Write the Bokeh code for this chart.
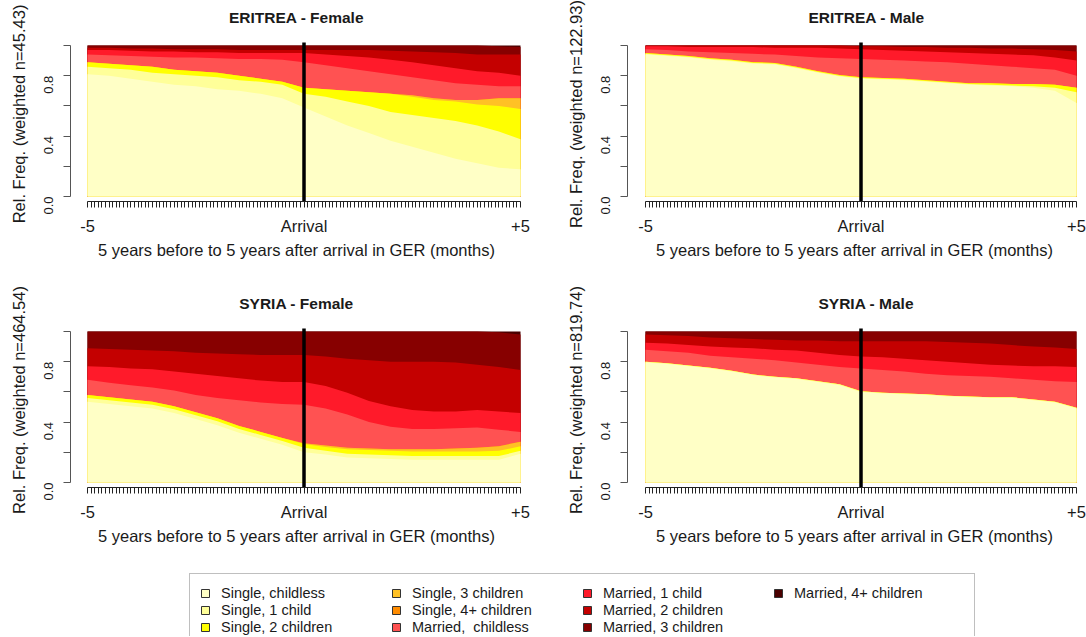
import math
import numpy as np
from bokeh.plotting import figure
from bokeh.layouts import column, row
from bokeh.models import FixedTicker, Legend, LegendItem, Range1d
from bokeh.embed import file_html
from bokeh.resources import INLINE

FONT = "Liberation Sans"

# ---------------- data ----------------
months = [-60, -54, -48, -42, -36, -30, -24, -18, -12, -6, 0,
          6, 12, 18, 24, 30, 36, 42, 48, 54, 60]
arrival_month = 0
month_ticks = list(range(-60, 61))
x_tick_labels = {-60: "-5", 0: "Arrival", 60: "+5"}
y_ticks = [0, 0.2, 0.4, 0.6, 0.8, 1.0]
y_tick_labels = {0: "0.0", 0.2: "", 0.4: "0.4", 0.6: "", 0.8: "0.8", 1.0: ""}

states = ["Single, childless", "Single, 1 child", "Single, 2 children",
          "Single, 3 children", "Single, 4+ children", "Married,  childless",
          "Married, 1 child", "Married, 2 children", "Married, 3 children",
          "Married, 4+ children"]
colors = ["#FFFFC6", "#FFFF99", "#FFFF00", "#FFC125", "#FF8C00",
          "#FF5252", "#FF1A2A", "#C40000", "#870000", "#4A0000"]

# ERITREA - Female (weighted n=45.43)
eri_f = {
    "Single, childless":   [0.81, 0.80, 0.78, 0.76, 0.74, 0.73, 0.71, 0.70, 0.68, 0.65, 0.59, 0.53, 0.47, 0.42, 0.37, 0.33, 0.29, 0.25, 0.22, 0.19, 0.18],
    "Single, 1 child":     [0.05, 0.05, 0.06, 0.06, 0.07, 0.07, 0.08, 0.07, 0.08, 0.09, 0.09, 0.13, 0.16, 0.18, 0.19, 0.21, 0.23, 0.25, 0.25, 0.24, 0.20],
    "Single, 2 children":  [0.03, 0.03, 0.03, 0.04, 0.03, 0.03, 0.03, 0.03, 0.02, 0.02, 0.04, 0.05, 0.07, 0.09, 0.12, 0.12, 0.12, 0.13, 0.14, 0.17, 0.20],
    "Single, 3 children":  [0, 0, 0, 0, 0, 0, 0, 0, 0, 0, 0, 0, 0, 0, 0, 0.01, 0.01, 0.01, 0.03, 0.05, 0.07],
    "Single, 4+ children": [0] * 21,
    "Married,  childless": [0.05, 0.055, 0.06, 0.065, 0.08, 0.09, 0.095, 0.11, 0.13, 0.145, 0.17, 0.16, 0.15, 0.14, 0.13, 0.12, 0.12, 0.11, 0.10, 0.08, 0.08],
    "Married, 1 child":    [0.03, 0.035, 0.035, 0.035, 0.04, 0.035, 0.04, 0.04, 0.04, 0.045, 0.06, 0.07, 0.08, 0.09, 0.095, 0.10, 0.10, 0.10, 0.09, 0.09, 0.07],
    "Married, 2 children": [0.015, 0.015, 0.015, 0.02, 0.015, 0.02, 0.02, 0.02, 0.02, 0.02, 0.02, 0.03, 0.04, 0.05, 0.06, 0.07, 0.085, 0.10, 0.11, 0.12, 0.14],
    "Married, 3 children": [0.015, 0.015, 0.02, 0.02, 0.025, 0.025, 0.025, 0.03, 0.03, 0.03, 0.03, 0.03, 0.03, 0.03, 0.035, 0.04, 0.045, 0.05, 0.06, 0.055, 0.05],
    "Married, 4+ children": [0] * 19 + [0.005, 0.01],
}

# ERITREA - Male (weighted n=122.93)
eri_m = {
    "Single, childless":   [0.94, 0.93, 0.92, 0.905, 0.895, 0.88, 0.875, 0.85, 0.82, 0.795, 0.78, 0.775, 0.77, 0.76, 0.75, 0.74, 0.735, 0.73, 0.72, 0.70, 0.62],
    "Single, 1 child":     [0.005] * 18 + [0.01, 0.02, 0.07],
    "Single, 2 children":  [0.005] * 16 + [0.01, 0.01, 0.015, 0.02, 0.03],
    "Single, 3 children":  [0] * 21,
    "Single, 4+ children": [0] * 21,
    "Married,  childless": [0.025, 0.03, 0.03, 0.04, 0.045, 0.055, 0.055, 0.07, 0.09, 0.11, 0.12, 0.12, 0.12, 0.125, 0.13, 0.13, 0.12, 0.115, 0.105, 0.10, 0.08],
    "Married, 1 child":    [0.02, 0.025, 0.03, 0.035, 0.04, 0.045, 0.045, 0.055, 0.065, 0.065, 0.065, 0.065, 0.065, 0.065, 0.065, 0.07, 0.075, 0.08, 0.085, 0.08, 0.10],
    "Married, 2 children": [0.005, 0.005, 0.01, 0.01, 0.01, 0.01, 0.015, 0.015, 0.015, 0.02, 0.02, 0.025, 0.025, 0.03, 0.03, 0.035, 0.035, 0.04, 0.04, 0.05, 0.06],
    "Married, 3 children": [0] * 10 + [0.005, 0.005, 0.01, 0.01, 0.015, 0.015, 0.02, 0.02, 0.025, 0.03, 0.04],
    "Married, 4+ children": [0] * 21,
}

# SYRIA - Female (weighted n=464.54)
syr_f = {
    "Single, childless":   [0.535, 0.52, 0.505, 0.49, 0.46, 0.42, 0.38, 0.33, 0.29, 0.25, 0.20, 0.185, 0.165, 0.16, 0.155, 0.15, 0.15, 0.15, 0.15, 0.15, 0.19],
    "Single, 1 child":     [0.025] * 10 + [0.03] + [0.025] * 9 + [0.02],
    "Single, 2 children":  [0.02] * 10 + [0.025, 0.025] + [0.03] * 7 + [0.035, 0.03],
    "Single, 3 children":  [0] * 10 + [0.005, 0.01, 0.01, 0.01, 0.01, 0.015, 0.015, 0.02, 0.025, 0.03, 0.03],
    "Single, 4+ children": [0] * 21,
    "Married,  childless": [0.10, 0.095, 0.095, 0.095, 0.105, 0.115, 0.135, 0.17, 0.195, 0.225, 0.255, 0.245, 0.22, 0.175, 0.15, 0.135, 0.135, 0.135, 0.135, 0.11, 0.065],
    "Married, 1 child":    [0.09, 0.105, 0.11, 0.12, 0.125, 0.14, 0.145, 0.145, 0.145, 0.145, 0.15, 0.15, 0.145, 0.14, 0.135, 0.125, 0.115, 0.11, 0.115, 0.12, 0.125],
    "Married, 2 children": [0.12, 0.12, 0.125, 0.125, 0.135, 0.14, 0.15, 0.16, 0.17, 0.18, 0.18, 0.195, 0.225, 0.27, 0.295, 0.32, 0.33, 0.325, 0.30, 0.295, 0.285],
    "Married, 3 children": [0.11, 0.115, 0.12, 0.125, 0.13, 0.14, 0.145, 0.15, 0.155, 0.155, 0.155, 0.165, 0.18, 0.19, 0.20, 0.20, 0.20, 0.205, 0.22, 0.23, 0.235],
    "Married, 4+ children": [0] * 19 + [0.005, 0.02],
}

# SYRIA - Male (weighted n=819.74)
syr_m = {
    "Single, childless":   [0.795, 0.785, 0.77, 0.755, 0.735, 0.71, 0.695, 0.685, 0.665, 0.645, 0.60, 0.59, 0.585, 0.58, 0.57, 0.565, 0.56, 0.56, 0.545, 0.53, 0.49],
    "Single, 1 child":     [0.005] * 21,
    "Single, 2 children":  [0] * 21,
    "Single, 3 children":  [0] * 21,
    "Single, 4+ children": [0] * 21,
    "Married,  childless": [0.08, 0.08, 0.085, 0.08, 0.09, 0.105, 0.11, 0.105, 0.11, 0.115, 0.15, 0.15, 0.145, 0.135, 0.135, 0.135, 0.135, 0.125, 0.13, 0.135, 0.17],
    "Married, 1 child":    [0.045, 0.05, 0.05, 0.06, 0.065, 0.07, 0.07, 0.08, 0.08, 0.08, 0.08, 0.085, 0.085, 0.09, 0.09, 0.085, 0.08, 0.085, 0.09, 0.10, 0.10],
    "Married, 2 children": [0.055, 0.055, 0.06, 0.06, 0.06, 0.06, 0.065, 0.065, 0.08, 0.09, 0.10, 0.105, 0.115, 0.125, 0.13, 0.135, 0.14, 0.135, 0.13, 0.125, 0.12],
    "Married, 3 children": [0.02, 0.025, 0.03, 0.04, 0.045, 0.05, 0.055, 0.06, 0.06, 0.065, 0.065, 0.065, 0.065, 0.065, 0.07, 0.075, 0.08, 0.09, 0.10, 0.105, 0.115],
    "Married, 4+ children": [0] * 21,
}

TEXT = "#1a1a1a"
Y_LO, Y_HI = -0.033, 1.126


def panel(title, ylabel, shares, fig_w, fig_h, frame_left, frame_right,
          x_start, x_end, border_bottom, title_offset=None):
    p = figure(width=fig_w, height=fig_h, output_backend="svg",
               toolbar_location=None,
               x_range=Range1d(x_start, x_end), y_range=Range1d(Y_LO, Y_HI),
               min_border_left=frame_left, min_border_right=fig_w - frame_right,
               min_border_top=26, min_border_bottom=border_bottom,
               outline_line_color=None)
    p.xgrid.visible = False
    p.ygrid.visible = False

    vals = np.array([shares[s] for s in states], dtype=float)
    vals = vals / vals.sum(axis=0)
    tops = np.cumsum(vals, axis=0)
    for k in range(len(states) - 1, -1, -1):
        p.varea(x=months, y1=0, y2=tops[k], fill_color=colors[k])

    # arrival marker line (from below the axis to just above the top)
    p.segment(x0=[arrival_month], y0=[Y_LO], x1=[arrival_month], y1=[1.02],
              line_color="black", line_width=3.5)

    p.title.text = title
    if title_offset is None:
        p.title.align = "center"
    else:
        p.title.align = "left"
        p.title.offset = title_offset
    p.title.vertical_align = "bottom"
    p.title.standoff = 1
    p.title.text_font = FONT
    p.title.text_font_size = "15.5px"
    p.title.text_font_style = "bold"
    p.title.text_color = TEXT

    xa = p.xaxis[0]
    xa.ticker = FixedTicker(ticks=month_ticks)
    xa.major_label_overrides = {m: x_tick_labels.get(m, "") for m in month_ticks}
    xa.bounds = (-60, 60)
    xa.major_tick_in = 0
    xa.major_tick_out = 6
    xa.minor_tick_line_color = None
    xa.axis_line_color = "#222222"
    xa.major_tick_line_color = "#222222"
    xa.major_label_text_font = FONT
    xa.major_label_text_font_size = "16.5px"
    xa.major_label_text_color = TEXT
    xa.major_label_standoff = 9
    xa.axis_label = "5 years before to 5 years after arrival in GER (months)"
    xa.axis_label_text_font = FONT
    xa.axis_label_text_font_size = "16.5px"
    xa.axis_label_text_font_style = "normal"
    xa.axis_label_text_color = TEXT
    xa.axis_label_standoff = 3

    ya = p.yaxis[0]
    ya.ticker = FixedTicker(ticks=y_ticks)
    ya.major_label_overrides = y_tick_labels
    ya.bounds = (0, 1)
    ya.major_tick_in = 0
    ya.major_tick_out = 7
    ya.minor_tick_line_color = None
    ya.axis_line_color = "#555555"
    ya.major_tick_line_color = "#555555"
    ya.major_label_orientation = math.pi / 2
    ya.major_label_text_font = FONT
    ya.major_label_text_font_size = "13px"
    ya.major_label_text_color = TEXT
    ya.major_label_standoff = 15
    ya.axis_label = ylabel
    ya.axis_label_text_font = FONT
    ya.axis_label_text_font_size = "16.5px"
    ya.axis_label_text_font_style = "normal"
    ya.axis_label_text_color = TEXT
    ya.axis_label_standoff = 9
    return p


LW, RW = 558, 528
p1 = panel("ERITREA - Female", "Rel. Freq. (weighted n=45.43)", eri_f,
           LW, 286, 70, 522, -64.71, 60.55, 85)
p2 = panel("ERITREA - Male", "Rel. Freq. (weighted n=122.93)", eri_m,
           RW, 286, 69, 523, -65.01, 61.39, 85, title_offset=181)
p3 = panel("SYRIA - Female", "Rel. Freq. (weighted n=464.54)", syr_f,
           LW, 280, 70, 522, -64.71, 60.55, 79)
p4 = panel("SYRIA - Male", "Rel. Freq. (weighted n=819.74)", syr_m,
           RW, 280, 69, 523, -65.01, 61.39, 79, title_offset=191)

# ---------------- legend ----------------
lf = figure(width=LW + RW, height=70, output_backend="svg", toolbar_location=None,
            x_range=Range1d(0, 1), y_range=Range1d(0, 1),
            x_axis_type=None, y_axis_type=None, outline_line_color=None,
            min_border=0)
items = []
for s, c in zip(states, colors):
    # legend-only swatch, kept outside the visible range
    r = lf.quad(left=[5], right=[6], top=[6], bottom=[5], fill_color=c,
                line_color="#333333", line_width=1)
    items.append(LegendItem(label=s, renderers=[r]))
legend = Legend(items=items, nrows=3, orientation="vertical",
                location=(189, -10), padding=10, spacing=0, margin=0,
                glyph_width=10, glyph_height=10, label_height=17,
                label_width=170, label_standoff=11,
                label_text_font=FONT, label_text_font_size="14.5px",
                label_text_color=TEXT,
                border_line_color="#808080", border_line_width=1,
                background_fill_color="white", background_fill_alpha=1.0)
lf.add_layout(legend, "center")

layout = column(row(p1, p2), row(p3, p4), lf)

with open("out.html", "w") as f:
    f.write(file_html(layout, INLINE))
